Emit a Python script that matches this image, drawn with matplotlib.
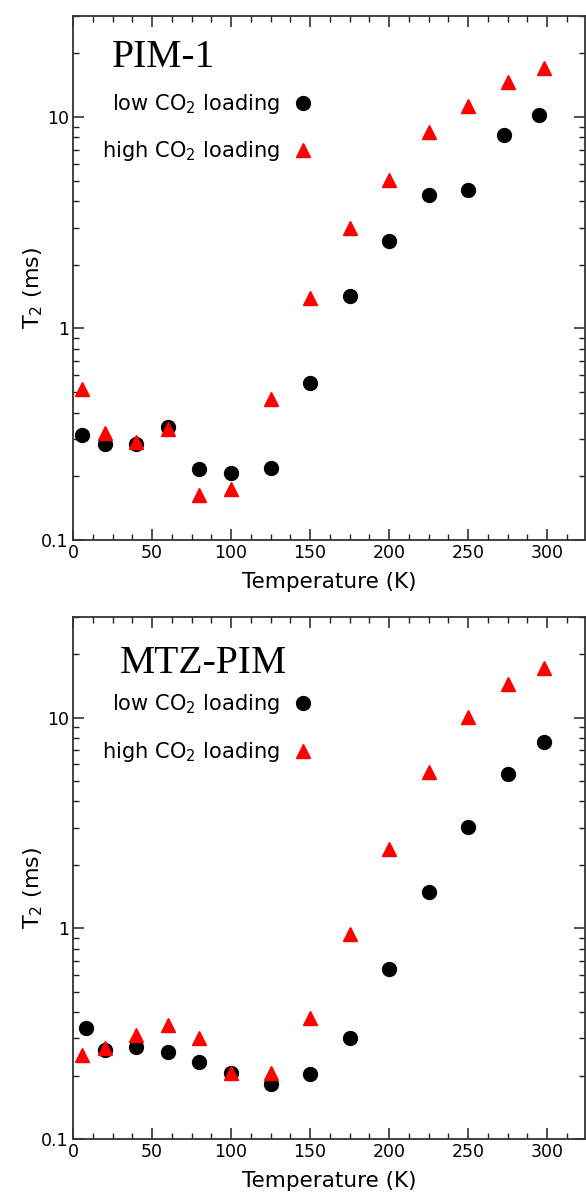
import matplotlib
matplotlib.use('Agg')
import matplotlib.pyplot as plt
from matplotlib.ticker import MultipleLocator, LogLocator, FixedFormatter, FixedLocator, NullFormatter

# T2 relaxation vs temperature
temp_low_pim1 = [6, 20, 40, 60, 80, 100, 125, 150, 175, 200, 225, 250, 273, 295]
t2_low_pim1 = [0.313, 0.284, 0.283, 0.342, 0.216, 0.208, 0.219, 0.552, 1.43, 2.58, 4.27, 4.52, 8.2, 10.2]
temp_high_pim1 = [6, 20, 40, 60, 80, 100, 125, 150, 175, 200, 225, 250, 275, 298]
t2_high_pim1 = [0.519, 0.319, 0.291, 0.336, 0.163, 0.175, 0.466, 1.40, 2.97, 5.03, 8.53, 11.3, 14.6, 17.0]

temp_low_mtz = [8, 20, 40, 60, 80, 100, 125, 150, 175, 200, 225, 250, 275, 298]
t2_low_mtz = [0.335, 0.264, 0.274, 0.259, 0.231, 0.206, 0.182, 0.203, 0.300, 0.644, 1.48, 3.04, 5.41, 7.64]
temp_high_mtz = [6, 20, 40, 60, 80, 100, 125, 150, 175, 200, 225, 250, 275, 298]
t2_high_mtz = [0.250, 0.27, 0.311, 0.347, 0.303, 0.205, 0.205, 0.377, 0.944, 2.37, 5.51, 10.1, 14.4, 17.2]

panels = [
    ('PIM-1', temp_low_pim1, t2_low_pim1, temp_high_pim1, t2_high_pim1),
    ('MTZ-PIM', temp_low_mtz, t2_low_mtz, temp_high_mtz, t2_high_mtz),
]
# where the sample name sits in each panel (axes fraction)
name_pos = [(0.076, 0.903), (0.092, 0.893)]

plt.rcParams['font.family'] = 'DejaVu Sans'
plt.rcParams['mathtext.fontset'] = 'dejavusans'

fig = plt.figure(figsize=(5.86, 11.96), dpi=100)
ax_top = fig.add_axes([0.1246, 0.5485, 0.8737, 0.4381])
ax_bot = fig.add_axes([0.1246, 0.0477, 0.8737, 0.4364])

for ax, (name, tl, vl, th, vh), (nx, ny) in zip([ax_top, ax_bot], panels, name_pos):
    ax.plot(tl, vl, 'o', color='black', markersize=10, label=r'low CO$_2$ loading')
    ax.plot(th, vh, '^', color='#ff0000', markersize=10.5, label=r'high CO$_2$ loading')

    ax.set_yscale('log')
    ax.set_xlim(0, 324)
    ax.set_ylim(0.1, 30)

    ax.xaxis.set_major_locator(MultipleLocator(50))
    ax.xaxis.set_minor_locator(MultipleLocator(12.5))
    ax.yaxis.set_major_locator(FixedLocator([0.1, 1, 10]))
    ax.yaxis.set_major_formatter(FixedFormatter(['0.1', '1', '10']))
    ax.yaxis.set_minor_locator(LogLocator(base=10, subs=range(2, 10)))
    ax.yaxis.set_minor_formatter(NullFormatter())

    ax.tick_params(which='both', direction='in', top=True, right=True, labelsize=12.5, color='#222222', pad=3)
    ax.tick_params(which='major', length=8, width=1.1)
    ax.tick_params(which='minor', length=4.5, width=1.0)
    for sp in ax.spines.values():
        sp.set_linewidth(1.3)
        sp.set_color('#333333')

    ax.set_xlabel('Temperature (K)', fontsize=15.5, labelpad=7)
    ax.set_ylabel(r'T$_2$ (ms)', fontsize=16)
    ax.yaxis.set_label_coords(-0.055, 0.481)

    ax.text(nx, ny, name, transform=ax.transAxes, fontsize=28.5,
            family='Liberation Serif', ha='left', va='baseline')

    ax.legend(loc='center right', bbox_to_anchor=(0.469, 0.787), frameon=False,
              markerfirst=False, fontsize=15.1, handlelength=1.0, handletextpad=0.6,
              labelspacing=1.12, borderpad=0, borderaxespad=0)

fig.savefig('out.png', dpi=100)
